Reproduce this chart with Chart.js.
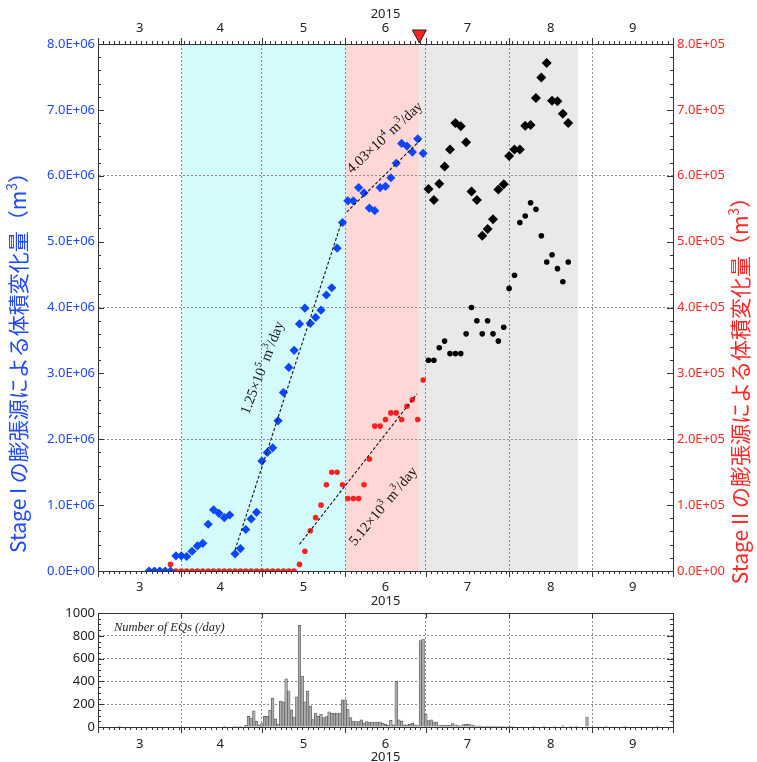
<!DOCTYPE html>
<html lang="ja">
<head>
<meta charset="UTF-8">
<title>膨張源による体積変化量と地震回数</title>
<script src="https://cdn.jsdelivr.net/npm/chart.js@4"></script>
<style>
  body { margin: 0; background: #fff; }
  #wrap { position: relative; width: 757px; height: 762px; overflow: hidden; }
  #volChart { position: absolute; left: 0; top: 0; }
  #eqChart { position: absolute; left: 0; top: 590px; }
</style>
</head>
<body>
<div id="wrap">
  <canvas id="volChart" width="757" height="612"></canvas>
  <canvas id="eqChart" width="757" height="172"></canvas>
</div>
<script>
// x values are days since 1 March 2015
const monthStarts = [0, 31, 61, 92, 122, 153, 184, 214];
const monthMids = [15.5, 45.5, 76.5, 107, 137.5, 168.5, 199];
const monthLabels = ['3', '4', '5', '6', '7', '8', '9'];

// stage I start, stage II start, eruption, end of data
const stageBounds = [31, 92, 119.6, 178.6];
const eruptionDay = 119.6;

// before the eruption (every 2 days)
const obsDays = [19, 21, 23, 25, 27, 29, 31, 33, 35, 37, 39, 41, 43, 45, 47, 49, 51, 53, 55, 57,
  59, 61, 63, 65, 67, 69, 71, 73, 75, 77, 79, 81, 83, 85, 87, 89, 91, 93, 95, 97,
  99, 101, 103, 105, 107, 109, 111, 113, 115, 117, 119, 121];
const stage1Vol = [0, 0, 0, 0, 0,
  0.23e6, 0.23e6, 0.22e6, 0.30e6, 0.38e6, 0.42e6, 0.71e6, 0.93e6, 0.875e6, 0.81e6, 0.85e6,
  0.26e6, 0.34e6, 0.63e6, 0.79e6, 0.89e6,
  1.67e6, 1.80e6, 1.87e6, 2.28e6, 2.71e6, 3.09e6, 3.35e6, 3.75e6, 3.99e6, 3.76e6,
  3.85e6, 3.96e6, 4.19e6, 4.30e6, 4.90e6, 5.29e6, 5.62e6, 5.62e6, 5.82e6, 5.74e6,
  5.51e6, 5.47e6, 5.82e6, 5.84e6, 5.97e6, 6.19e6, 6.49e6, 6.45e6, 6.36e6, 6.56e6, 6.34e6];
const stage2Vol = [0, 0, 0, 0, 0.10e5,
  0, 0, 0, 0, 0, 0, 0, 0, 0, 0, 0, 0, 0, 0, 0, 0, 0, 0, 0, 0, 0, 0, 0,
  0.10e5, 0.30e5, 0.61e5, 0.81e5, 1.00e5, 1.31e5, 1.50e5, 1.50e5, 1.31e5, 1.10e5, 1.10e5, 1.10e5,
  1.31e5, 1.70e5, 2.20e5, 2.20e5, 2.30e5, 2.40e5, 2.40e5, 2.30e5, 2.50e5, 2.60e5, 2.30e5, 2.90e5];

// after the eruption
const postDays = [123, 125, 127, 129, 131, 133, 135, 137, 139, 141, 143, 145, 147, 149, 151, 153,
  155, 157, 159, 161, 163, 165, 167, 169, 171, 173, 175];
const postVol1 = [5.80e6, 5.63e6, 5.88e6, 6.14e6, 6.40e6, 6.80e6, 6.75e6, 6.51e6, 5.76e6, 5.63e6,
  5.09e6, 5.19e6, 5.34e6, 5.79e6, 5.87e6, 6.30e6, 6.40e6, 6.40e6, 6.76e6, 6.77e6,
  7.18e6, 7.49e6, 7.71e6, 7.14e6, 7.13e6, 6.94e6, 6.80e6];
const postVol2 = [3.20e5, 3.20e5, 3.39e5, 3.49e5, 3.30e5, 3.30e5, 3.30e5, 3.60e5, 4.00e5, 3.80e5,
  3.60e5, 3.80e5, 3.60e5, 3.49e5, 3.70e5, 4.29e5, 4.49e5, 5.29e5, 5.39e5, 5.59e5,
  5.49e5, 5.09e5, 4.69e5, 4.80e5, 4.59e5, 4.39e5, 4.69e5];

// fitted rates (end points)
const fit1Days = [51, 90.5], fit1Vol = [0.32e6, 5.28e6];
const fit1bDays = [92.6, 120.2], fit1bVol = [5.45e6, 6.55e6];
const fit2Days = [75, 118.7], fit2Vol = [0.405e5, 2.69e5];

// daily number of earthquakes
const eqDays = [8, 35, 47, 51, 53,
  55, 56, 57, 58, 59, 60, 61, 62, 63, 64, 65, 66, 67, 68, 69, 70, 71, 72, 73, 74,
  75, 76, 77, 78, 79, 80, 81, 82, 83, 84, 85, 86, 87, 88, 89, 90, 91, 92, 93,
  94, 95, 96, 97, 98, 99, 100, 101, 102, 103, 104, 105, 106, 107, 108, 109, 110, 111, 112, 113,
  114, 115, 116, 117, 118, 119, 120, 121, 122, 123, 124, 125, 126, 127, 128, 129, 130, 131, 132,
  133, 134, 135, 136, 137, 138, 139, 140, 141, 142, 143, 144, 145, 146, 147, 148, 149, 150, 151,
  152, 153, 154, 155,
  158, 162, 166, 170, 173, 176, 178, 182, 186, 189, 192, 196, 202, 208];
const eqCounts = [3, 4, 3, 5, 3,
  15, 94, 79, 141, 50, 18, 29, 94, 94, 147, 253, 71, 26, 226, 220, 423, 318, 150, 88, 265,
  891, 447, 220, 315, 185, 65, 123, 94, 112, 82, 91, 132, 120, 123, 123, 123, 238, 238, 156,
  82, 53, 47, 47, 62, 35, 47, 44, 44, 44, 44, 44, 35, 24, 15, 59, 18, 400, 62, 50,
  18, 18, 24, 32, 18, 12, 759, 770, 112, 56, 62, 44, 44, 12, 15, 15, 15, 15, 29,
  20, 12, 10, 22, 24, 26, 20, 12, 8, 10, 6, 6, 9, 7, 5, 7, 5, 8, 5,
  4, 6, 5, 4,
  4, 6, 3, 5, 10, 5, 3, 88, 4, 6, 4, 3, 4, 3];

const BLUE = '#1f48ff';
const RED = '#ff2626';

Chart.defaults.font.family = "'Noto Sans', sans-serif";
Chart.defaults.font.size = 13;
Chart.defaults.color = '#222';

function pts(xs, ys) {
  return xs.map((x, i) => ({ x: x, y: ys[i] }));
}

function sciLabel(v) {
  const parts = v.toExponential(1).split('e');
  const e = parseInt(parts[1], 10);
  return parts[0] + 'E' + (e < 0 ? '-' : '+') + String(Math.abs(e)).padStart(2, '0');
}

function steps(from, to, step) {
  const out = [];
  for (let v = from; v <= to + 1e-9; v += step) out.push(v);
  return out;
}

function monthTicks(scale) {
  scale.ticks = monthStarts.concat(monthMids).sort((a, b) => a - b).map(v => ({ value: v }));
}

function monthLabel(v) {
  const i = monthMids.indexOf(v);
  return i >= 0 ? monthLabels[i] : '';
}

function monthGrid(c) {
  return c.tick && monthStarts.includes(c.tick.value) ? '#8a8a8a' : 'rgba(0,0,0,0)';
}

function richParts(s) {
  return s.split(/(\^\d)/).filter(Boolean).map(t => t[0] === '^' ? { t: t.slice(1), sup: true } : { t: t });
}

function drawRich(ctx, s, x, y, angle, size, family, color) {
  const parts = richParts(s);
  const base = size + 'px ' + family;
  const small = Math.round(size * 0.68) + 'px ' + family;
  let total = 0;
  parts.forEach(p => { ctx.font = p.sup ? small : base; p.w = ctx.measureText(p.t).width; total += p.w; });
  ctx.save();
  ctx.translate(x, y);
  ctx.rotate(angle * Math.PI / 180);
  ctx.fillStyle = color;
  ctx.textAlign = 'left';
  ctx.textBaseline = 'alphabetic';
  let cx = -total / 2;
  parts.forEach(p => {
    ctx.font = p.sup ? small : base;
    ctx.fillText(p.t, cx, p.sup ? -size * 0.08 : size * 0.35);
    cx += p.w;
  });
  ctx.restore();
}

function drawTickMarks(chart, specs) {
  const ctx = chart.ctx, a = chart.chartArea;
  ctx.save();
  ctx.strokeStyle = '#333';
  ctx.lineWidth = 1;
  ctx.beginPath();
  specs.forEach(s => {
    const scale = chart.scales[s.axis];
    s.values.forEach(v => {
      const p = Math.round(scale.getPixelForValue(v)) + 0.5;
      if (s.side === 'bottom') { ctx.moveTo(p, a.bottom); ctx.lineTo(p, a.bottom + s.len); }
      else if (s.side === 'top') { ctx.moveTo(p, a.top); ctx.lineTo(p, a.top - s.len); }
      else if (s.side === 'topIn') { ctx.moveTo(p, a.top); ctx.lineTo(p, a.top + s.len); }
      else if (s.side === 'left') { ctx.moveTo(a.left, p); ctx.lineTo(a.left + s.len, p); }
      else if (s.side === 'right') { ctx.moveTo(a.right, p); ctx.lineTo(a.right - s.len, p); }
    });
  });
  ctx.stroke();
  ctx.restore();
}

const minorDays = steps(0, 214, 2);

function xAxis(pos, height, extra) {
  return Object.assign({
    type: 'linear',
    position: pos,
    min: 0,
    max: 214,
    offset: false,
    afterBuildTicks: monthTicks,
    afterFit: s => { s.height = height; },
    ticks: { autoSkip: false, maxRotation: 0, padding: 8, callback: monthLabel, color: '#222' },
    grid: { drawTicks: false, color: monthGrid, offset: false },
    border: { color: '#333', width: 1, dash: [2, 2] }
  }, extra);
}

// shaded stages
const stageBands = {
  id: 'stageBands',
  beforeDraw(chart) {
    const ctx = chart.ctx, a = chart.chartArea, x = chart.scales.x;
    const cols = ['#d3fbfb', '#ffd7d7', '#e9e9e9'];
    ctx.save();
    for (let i = 0; i < 3; i++) {
      const x0 = x.getPixelForValue(stageBounds[i]);
      const x1 = x.getPixelForValue(stageBounds[i + 1]);
      ctx.fillStyle = cols[i];
      ctx.fillRect(x0, a.top, x1 - x0, a.bottom - a.top);
    }
    ctx.restore();
  }
};

const volDecor = {
  id: 'volDecor',
  afterDraw(chart) {
    const ctx = chart.ctx, a = chart.chartArea, sc = chart.scales;
    drawTickMarks(chart, [
      { axis: 'x', values: minorDays, len: 3, side: 'bottom' },
      { axis: 'x', values: monthStarts, len: 6, side: 'bottom' },
      { axis: 'xTop', values: minorDays, len: 3, side: 'top' },
      { axis: 'xTop', values: monthStarts, len: 6, side: 'top' },
      { axis: 'y', values: steps(0, 8e6, 2e5), len: 3, side: 'left' },
      { axis: 'y', values: steps(0, 8e6, 1e6), len: 6, side: 'left' },
      { axis: 'y2', values: steps(0, 8e5, 2e4), len: 3, side: 'right' },
      { axis: 'y2', values: steps(0, 8e5, 1e5), len: 6, side: 'right' }
    ]);

    // rate labels along the fitted lines
    const notes = [
      { text: '1.25×10^5 m^3/day', x: 60.9, y: 3.09e6, axis: 'y', angle: -69 },
      { text: '4.03×10^4 m^3/day', x: 106.5, y: 6.59e6, axis: 'y', angle: -43 },
      { text: '5.12×10^3 m^3/day', x: 105.9, y: 0.99e5, axis: 'y2', angle: -50 }
    ];
    notes.forEach(n => {
      drawRich(ctx, n.text, sc.x.getPixelForValue(n.x), sc[n.axis].getPixelForValue(n.y),
        n.angle, 14.5, '"Liberation Serif", serif', '#111');
    });

    // eruption marker
    const ex = sc.xTop.getPixelForValue(eruptionDay);
    ctx.save();
    ctx.beginPath();
    ctx.moveTo(ex, a.top - 1);
    ctx.lineTo(ex - 7, a.top - 14);
    ctx.lineTo(ex + 7, a.top - 14);
    ctx.closePath();
    ctx.fillStyle = '#ff2020';
    ctx.fill();
    ctx.strokeStyle = '#222';
    ctx.lineWidth = 1;
    ctx.stroke();
    ctx.restore();

    // axis titles
    const midY = (a.top + a.bottom) / 2;
    drawRich(ctx, 'Stage I の膨張源による体積変化量（m^3）', 19, midY + 50, -90, 21,
      '"Noto Sans CJK JP", sans-serif', BLUE);
    drawRich(ctx, 'Stage II の膨張源による体積変化量（m^3）', 741, midY + 78, -90, 21,
      '"Noto Sans CJK JP", sans-serif', RED);
  }
};

const eqDecor = {
  id: 'eqDecor',
  afterDraw(chart) {
    const ctx = chart.ctx, a = chart.chartArea;
    drawTickMarks(chart, [
      { axis: 'x', values: minorDays, len: 3, side: 'bottom' },
      { axis: 'x', values: monthStarts, len: 6, side: 'bottom' },
      { axis: 'xTop', values: monthStarts, len: 5, side: 'topIn' },
      { axis: 'y', values: steps(0, 1000, 50), len: 3, side: 'left' },
      { axis: 'y', values: steps(0, 1000, 200), len: 6, side: 'left' },
      { axis: 'y', values: steps(0, 1000, 50), len: 3, side: 'right' },
      { axis: 'y', values: steps(0, 1000, 200), len: 6, side: 'right' }
    ]);
    ctx.save();
    ctx.font = 'italic 12.5px "Liberation Serif", serif';
    ctx.fillStyle = '#222';
    ctx.textBaseline = 'middle';
    ctx.fillText('Number of EQs (/day)', a.left + 16, a.top + 15);
    ctx.restore();
  }
};

new Chart(document.getElementById('volChart'), {
  type: 'scatter',
  data: {
    datasets: [
      { type: 'line', data: pts(fit1Days, fit1Vol), yAxisID: 'y', borderColor: '#111', borderWidth: 1.1, borderDash: [3, 2], pointRadius: 0, fill: false },
      { type: 'line', data: pts(fit1bDays, fit1bVol), yAxisID: 'y', borderColor: '#111', borderWidth: 1.1, borderDash: [3, 2], pointRadius: 0, fill: false },
      { type: 'line', data: pts(fit2Days, fit2Vol), yAxisID: 'y2', borderColor: '#111', borderWidth: 1.1, borderDash: [3, 2], pointRadius: 0, fill: false },
      { label: 'Stage I', data: pts(obsDays, stage1Vol), yAxisID: 'y', pointStyle: 'rectRot', pointRadius: 4.6, backgroundColor: '#0c46ff', borderWidth: 0 },
      { label: 'Stage I (after)', data: pts(postDays, postVol1), yAxisID: 'y', pointStyle: 'rectRot', pointRadius: 5, backgroundColor: '#000', borderWidth: 0 },
      { label: 'Stage II', data: pts(obsDays, stage2Vol), yAxisID: 'y2', pointStyle: 'circle', pointRadius: 2.8, backgroundColor: '#ff2020', borderWidth: 0 },
      { label: 'Stage II (after)', data: pts(postDays, postVol2), yAxisID: 'y2', pointStyle: 'circle', pointRadius: 2.8, backgroundColor: '#000', borderWidth: 0 }
    ]
  },
  options: {
    responsive: false,
    animation: false,
    devicePixelRatio: 1,
    layout: { padding: 0 },
    plugins: { legend: { display: false }, tooltip: { enabled: false } },
    scales: {
      x: xAxis('bottom', 41, {
        title: { display: true, text: '2015', color: '#222', font: { size: 13 }, padding: { top: 0, bottom: 3.2 } }
      }),
      xTop: xAxis('top', 44, {
        grid: { display: false, drawTicks: false },
        title: { display: true, text: '2015', color: '#222', font: { size: 13 }, padding: { top: 6, bottom: 0 } }
      }),
      y: {
        type: 'linear', position: 'left', min: 0, max: 8e6,
        afterFit: s => { s.width = 98; },
        ticks: { stepSize: 1e6, padding: 3, color: BLUE, callback: v => sciLabel(v) },
        grid: { drawTicks: false, color: c => (c.tick && c.tick.value % 2e6 === 0 && c.tick.value > 0 && c.tick.value < 8e6) ? '#8a8a8a' : 'rgba(0,0,0,0)' },
        border: { color: '#333', width: 1, dash: [2, 2] }
      },
      y2: {
        type: 'linear', position: 'right', min: 0, max: 8e5,
        afterFit: s => { s.width = 84; },
        ticks: { stepSize: 1e5, padding: 4, color: RED, callback: v => sciLabel(v) },
        grid: { display: false, drawTicks: false },
        border: { color: '#333', width: 1 }
      }
    }
  },
  plugins: [stageBands, volDecor]
});

new Chart(document.getElementById('eqChart'), {
  type: 'bar',
  data: {
    datasets: [{
      label: 'Number of EQs',
      data: pts(eqDays, eqCounts),
      backgroundColor: '#adadad',
      borderColor: '#555',
      borderWidth: 0.7,
      barPercentage: 1,
      categoryPercentage: 1
    }]
  },
  options: {
    responsive: false,
    animation: false,
    devicePixelRatio: 1,
    layout: { padding: 0 },
    plugins: { legend: { display: false }, tooltip: { enabled: false } },
    scales: {
      x: xAxis('bottom', 35, {
        ticks: { autoSkip: false, maxRotation: 0, padding: 9, callback: monthLabel, color: '#222' },
        title: { display: true, text: '2015', color: '#222', font: { size: 13 }, padding: { top: 0, bottom: -2.8 } }
      }),
      xTop: xAxis('top', 23, {
        ticks: { display: false },
        grid: { display: false, drawTicks: false }
      }),
      y: {
        type: 'linear', position: 'left', min: 0, max: 1000,
        afterFit: s => { s.width = 98; },
        ticks: { stepSize: 200, padding: 3, color: '#222', callback: v => String(v) },
        grid: { drawTicks: false, color: c => (c.tick && c.tick.value > 0 && c.tick.value < 1000) ? '#8a8a8a' : 'rgba(0,0,0,0)' },
        border: { color: '#333', width: 1, dash: [2, 2] }
      },
      y2: {
        type: 'linear', position: 'right', min: 0, max: 1000,
        afterFit: s => { s.width = 84; },
        ticks: { display: false },
        grid: { display: false, drawTicks: false },
        border: { color: '#333', width: 1 }
      }
    }
  },
  plugins: [eqDecor]
});
</script>
</body>
</html>
